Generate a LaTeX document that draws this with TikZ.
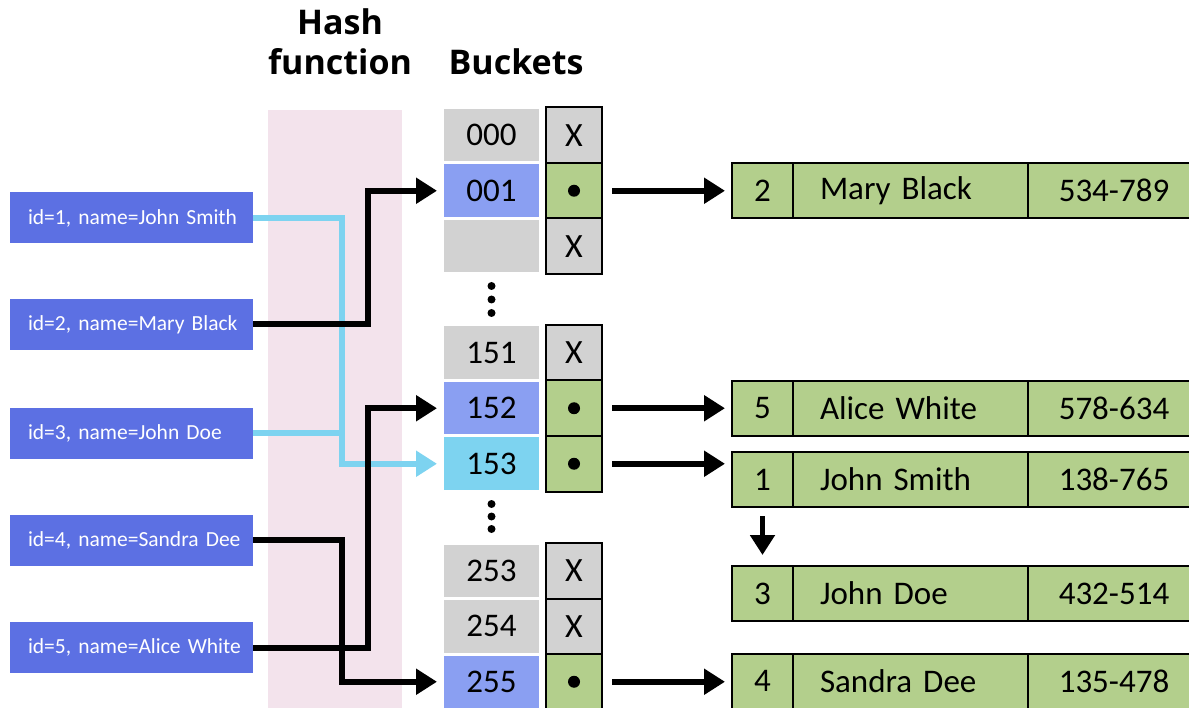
\documentclass[tikz,border=0pt]{standalone}
\usepackage{fontspec}
\setmainfont{Carlito}
\newfontfamily\headfont{Open Sans}
\usetikzlibrary{positioning,arrows.meta}

\definecolor{idblue}{HTML}{5C70E3}
\definecolor{bktgray}{HTML}{D2D2D2}
\definecolor{bktblue}{HTML}{8A9FF2}
\definecolor{bktcyan}{HTML}{7DD3F0}
\definecolor{recgreen}{HTML}{B3CF8C}
\definecolor{hashpink}{HTML}{F3E3EC}

\begin{document}
\begin{tikzpicture}[
    x=1pt, y=-1pt,
    >={Triangle[length=21pt,width=25pt]},
    node distance=0pt,
    head/.style={
        align=center,
        font=\headfont\bfseries\fontsize{34}{40}\selectfont
    },
    idbox/.style={
        rectangle,
        fill=idblue,
        text=white,
        minimum height=51pt,
        text width=243pt,
        inner xsep=0pt,
        align=left,
        execute at begin node={\hspace*{18pt}},
        font=\fontsize{21.5}{24}\selectfont
    },
    bucket/.style={
        rectangle,
        fill=bktgray,
        minimum width=95pt,
        minimum height=52.5pt,
        outer sep=0pt,
        font=\fontsize{33}{36}\selectfont
    },
    slot/.style={
        rectangle,
        draw,
        line width=2pt,
        fill=bktgray,
        minimum width=56pt,
        minimum height=55.5pt,
        outer sep=0pt,
        font=\fontsize{34}{36}\selectfont
    },
    used/.style={slot, fill=recgreen},
    cell/.style={
        rectangle,
        draw,
        line width=2pt,
        fill=recgreen,
        minimum height=55pt,
        outer sep=0pt,
        font=\fontsize{33}{36}\selectfont
    },
    numcell/.style={cell, minimum width=61pt},
    namecell/.style={cell, text width=181pt, inner xsep=27pt, align=left},
    telcell/.style={cell, minimum width=172pt},
    link/.style={->, line width=6pt, shorten >=7pt},
    ptrlink/.style={link, shorten <=10pt}
]

\useasboundingbox (0,0) rectangle (1189,708);
\clip (0,0) rectangle (1189,708);

% hash function band
\fill[hashpink] (268,110) rectangle (402,712);

\node[head, anchor=base] (hash) at (340,75) {Hash\\function};
\node[head, anchor=base] (bkts) at (516,75) {Buckets};

% records to store
\node[idbox] (lab1) at (131.5,218) {id=1, name=John Smith};
\node[idbox] (lab2) at (131.5,324.5) {id=2, name=Mary Black};
\node[idbox] (lab3) at (131.5,433.5) {id=3, name=John Doe};
\node[idbox] (lab4) at (131.5,540) {id=4, name=Sandra Dee};
\node[idbox] (lab5) at (131.5,647.5) {id=5, name=Alice White};

% bucket array
\node[slot] (s000) at (574,135.25) {X};
\node[used, below=of s000] (s001) {};
\node[slot, below=of s001] (s002) {X};
\node[slot] (s151) at (574,352.75) {X};
\node[used, below=of s151] (s152) {};
\node[used, below=of s152] (s153) {};
\node[slot] (s253) at (574,570.75) {X};
\node[slot, below=of s253] (s254) {X};
\node[used, below=of s254] (s255) {};

\node[bucket, left=7pt of s000] (b000) {000};
\node[bucket, fill=bktblue, left=7pt of s001] (b001) {001};
\node[bucket, left=7pt of s002] (b002) {};
\node[bucket, left=7pt of s151] (b151) {151};
\node[bucket, fill=bktblue, left=7pt of s152] (b152) {152};
\node[bucket, fill=bktcyan, left=7pt of s153] (b153) {153};
\node[bucket, left=7pt of s253] (b253) {253};
\node[bucket, left=7pt of s254] (b254) {254};
\node[bucket, fill=bktblue, left=7pt of s255] (b255) {255};

\fill (s001) circle (6pt) (s152) circle (6pt) (s153) circle (6pt) (s255) circle (6pt);
\fill (491.5,286) circle (4pt) (491.5,299.5) circle (4pt) (491.5,313) circle (4pt);
\fill (491.5,504) circle (4pt) (491.5,516.5) circle (4pt) (491.5,529) circle (4pt);

% entries
\node[numcell] (r2num) at (762.5,190.5) {2};
\node[namecell, right=of r2num] (r2name) {Mary Black};
\node[telcell, right=of r2name] (r2tel) {534-789};
\node[numcell] (r5num) at (762.5,408.5) {5};
\node[namecell, right=of r5num] (r5name) {Alice White};
\node[telcell, right=of r5name] (r5tel) {578-634};
\node[numcell] (r1num) at (762.5,479.5) {1};
\node[namecell, right=of r1num] (r1name) {John Smith};
\node[telcell, right=of r1name] (r1tel) {138-765};
\node[numcell] (r3num) at (762.5,593.5) {3};
\node[namecell, right=of r3num] (r3name) {John Doe};
\node[telcell, right=of r3name] (r3tel) {432-514};
\node[numcell] (r4num) at (762.5,681) {4};
\node[namecell, right=of r4num] (r4name) {Sandra Dee};
\node[telcell, right=of r4name] (r4tel) {135-478};

% hashing
\coordinate (cyx) at (342,0);
\coordinate (bkx) at (368,0);
\draw[line width=6pt, bktcyan] (lab3.east) -- (lab3.east -| cyx);
\draw[link, bktcyan] (lab1.east) -- (lab1.east -| cyx) |- (b153.west);
\draw[link] (lab2.east) -- (lab2.east -| bkx) |- (b001.west);
\draw[link] (lab5.east) -- (lab5.east -| bkx) |- (b152.west);
\draw[link] (lab4.east) -- (lab4.east -| cyx) |- (b255.west);

% pointers
\draw[ptrlink] (s001.east) -- (s001.east -| r2num.west);
\draw[ptrlink] (s152.east) -- (s152.east -| r5num.west);
\draw[ptrlink] (s153.east) -- (s153.east -| r1num.west);
\draw[ptrlink] (s255.east) -- (s255.east -| r4num.west);
\draw[-{Triangle[length=20pt,width=24pt]}, line width=5pt, shorten <=9pt, shorten >=11pt] (r1num.south) -- (r3num.north);

\end{tikzpicture}
\end{document}
